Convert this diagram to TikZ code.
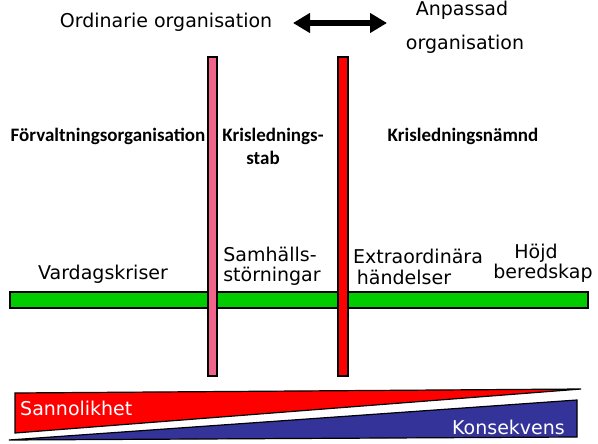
\documentclass[tikz,border=0pt]{standalone}
\usepackage{fontspec}
\setmainfont{DejaVu Sans}
\newfontfamily\calfont{Carlito}
\usetikzlibrary{arrows.meta}
\definecolor{pinkbar}{RGB}{240,100,140}
\definecolor{redbar}{RGB}{255,0,0}
\definecolor{greenbar}{RGB}{0,204,0}
\definecolor{bluetri}{RGB}{51,51,153}
\tikzset{
  bar/.style={draw=black,line width=1.5pt},
  lbl/.style={font=\fontsize{19}{21}\selectfont,inner sep=0pt,align=center},
  blbl/.style={font=\calfont\bfseries\fontsize{19}{21}\selectfont,inner sep=0pt,align=center},
  wlbl/.style={font=\fontsize{19}{21}\selectfont,inner sep=0pt,text=white},
}
\begin{document}
\begin{tikzpicture}[x=1pt,y=-1pt]
\useasboundingbox (0,0) rectangle (598,444);
% green bar
\draw[bar,fill=greenbar] (10,292) rectangle (588,308);
% vertical bars
\draw[bar,fill=pinkbar] (208,57) rectangle (217,376);
\draw[bar,fill=redbar] (338,57) rectangle (348,376);
% top labels
\node[lbl] (ord) at (166,22) {Ordinarie organisation};
\node[lbl] (anp) at (462,10) {Anpassad};
\node[lbl] (anporg) at (465,44) {organisation};
\coordinate (al) at (293,23);
\coordinate (ar) at (387,23);
\draw[line width=6pt,{Triangle[length=17pt,width=19pt]}-{Triangle[length=17pt,width=19pt]}] (al) -- (ar);
% bold labels
\node[blbl] (forv) at (108,136) {Förvaltningsorganisation};
\node[blbl] (ksl) at (273,136) {Krislednings-};
\node[blbl] (stab) at (263,158) {stab};
\node[blbl] (kn) at (463,136) {Krisledningsnämnd};
% event labels
\node[lbl] (vk) at (103,274) {Vardagskriser};
\node[lbl] (sam) at (270,254) {Samhälls-};
\node[lbl] (sto) at (272,276) {störningar};
\node[lbl] (ext) at (418,256) {Extraordinära};
\node[lbl] (han) at (404,277) {händelser};
\node[lbl] (hoj) at (536,253) {Höjd};
\node[lbl] (ber) at (543,273) {beredskap};
% bottom triangles
\draw[black,line width=1.2pt,fill=redbar] (15,393) -- (581,389) -- (15,433) -- cycle;
\draw[black,line width=1.2pt,fill=bluetri] (577,400) -- (577,437) -- (9,440) -- cycle;
\node[wlbl,anchor=west] (san) at (20,408) {Sannolikhet};
\node[wlbl,anchor=east] (kon) at (565,427) {Konsekvens};
\end{tikzpicture}
\end{document}
